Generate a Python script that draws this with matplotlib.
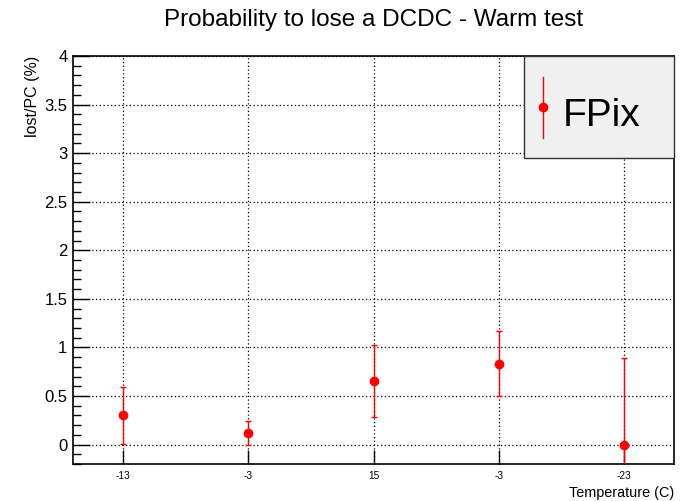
import matplotlib
matplotlib.use("Agg")
import matplotlib.pyplot as plt
from matplotlib.ticker import MultipleLocator
from matplotlib.patches import Rectangle
from matplotlib.lines import Line2D

plt.rcParams['font.family'] = ['Liberation Sans', 'DejaVu Sans']

# Temperature steps of the warm test and loss probability per power chain
temperatures = ["-13", "-3", "15", "-3", "-23"]
lost_per_pc = [0.30, 0.12, 0.655, 0.833, 0.0]
lost_err = [0.29, 0.12, 0.375, 0.335, 0.895]
y_ticks = [0, 0.5, 1, 1.5, 2, 2.5, 3, 3.5, 4]
series_name = "FPix"

W, H = 687, 501
fig = plt.figure(figsize=(W / 100, H / 100), dpi=100)
left, right, top, bottom = 73, 674, 56, 464
ax = fig.add_axes([left / W, 1 - bottom / H, (right - left) / W, (bottom - top) / H])

x = list(range(1, len(temperatures) + 1))
ax.errorbar(x, lost_per_pc, yerr=lost_err, fmt='o', color='red', ms=6,
            elinewidth=1.0, capsize=2.2, capthick=1.0, zorder=3)

ax.set_xlim(0.6, len(temperatures) + 0.4)
ax.set_ylim(-0.2, 4.0)
ax.set_xticks(x)
ax.set_xticklabels(temperatures, fontsize=7.3)
ax.set_yticks(y_ticks)
ax.set_yticklabels([f"{v:g}" for v in y_ticks], fontsize=12)
ax.yaxis.set_minor_locator(MultipleLocator(0.1))
ax.tick_params(axis='y', which='major', direction='in', length=12, width=1.0, pad=4)
ax.tick_params(axis='y', which='minor', direction='in', length=6, width=1.0)
ax.tick_params(axis='x', which='major', direction='in', length=10, width=1.0, pad=5)

ax.grid(True, which='major', color='black', linestyle=(0, (1, 2)), linewidth=0.9)
for s in ax.spines.values():
    s.set_linewidth(1.2)

# title centred over the frame
fig.text((left + right) / 2 / W, 1 - 20 / H, "Probability to lose a DCDC - Warm test",
         fontsize=17.5, ha='center', va='center')

ax.set_ylabel("lost/PC (%)", fontsize=11.5, loc='top')
ax.yaxis.set_label_coords((40 - left) / (right - left), 1.0)
ax.set_xlabel("Temperature (C)", fontsize=10.4, loc='right')
ax.xaxis.label.set_va('center')
ax.xaxis.set_label_coords(1.0, -(493 - bottom) / (bottom - top))

# legend box
def fx(px):
    return px / W

def fy(py):
    return 1 - py / H

box = Rectangle((fx(524), fy(158)), fx(674) - fx(524), fy(56) - fy(158),
                transform=fig.transFigure, facecolor='#f0f0f0', edgecolor='#333333',
                linewidth=1.0, zorder=5)
fig.add_artist(box)
fig.add_artist(Line2D([fx(543), fx(543)], [fy(77), fy(138)], transform=fig.transFigure,
                      color='red', linewidth=1.0, zorder=6))
fig.add_artist(Line2D([fx(543)], [fy(107)], transform=fig.transFigure, marker='o',
                      ms=6, color='red', linestyle='none', zorder=7))
fig.text(fx(563), fy(116), series_name, fontsize=28, ha='left', va='center', zorder=7)

fig.savefig("out.png", dpi=100)
